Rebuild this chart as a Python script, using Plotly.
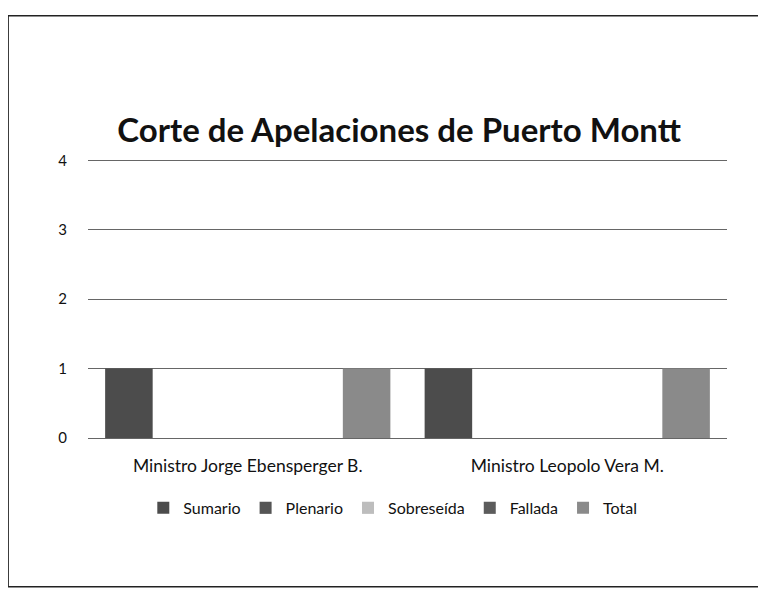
import plotly.graph_objects as go

categories = ["Ministro Jorge Ebensperger B.", "Ministro Leopolo Vera M."]
series_names = ["Sumario", "Plenario", "Sobreseída", "Fallada", "Total"]
sumario = [1, 1]
plenario = [0, 0]
sobreseida = [0, 0]
fallada = [0, 0]
total = [1, 1]
y_ticks = [0, 1, 2, 3, 4]

values = [sumario, plenario, sobreseida, fallada, total]
colors = ["#4c4c4c", "#555555", "#bdbdbd", "#5c5c5c", "#8a8a8a"]

fig = go.Figure()
for name, vals, col in zip(series_names, values, colors):
    fig.add_trace(go.Bar(name=name, x=categories, y=vals, marker_color=col,
                         marker_line_width=0))

# page has an 8px body margin, so the figure is 8px smaller and margins compensate
fig.update_layout(
    width=758, height=581,
    margin=dict(l=80, r=39, t=148.5, b=151),
    paper_bgcolor="white", plot_bgcolor="white",
    font=dict(family="Lato, Open Sans, sans-serif", color="#111111", size=16),
    barmode="group", bargap=0.07, bargroupgap=0.2,
    title=dict(text="<b>Corte de Apelaciones de Puerto Montt</b>",
               x=0.516, xanchor="center", y=0.79, yanchor="middle",
               font=dict(size=33, color="#111111")),
    legend=dict(orientation="h", x=0.477, xanchor="center", y=-0.249, yanchor="middle",
                font=dict(size=16, color="#111111"), itemwidth=30, tracegroupgap=0),
    showlegend=True,
)
fig.update_yaxes(range=[0, 4.05], tickvals=y_ticks, showgrid=True, gridcolor="#666666",
                 gridwidth=1, zeroline=True, zerolinecolor="#666666", zerolinewidth=1,
                 ticklabelstandoff=20, tickfont=dict(size=15, color="#111111"),
                 showline=False)
fig.update_xaxes(showline=False, ticklabelstandoff=15, tickfont=dict(size=17.5, color="#111111"))

fig.add_shape(type="rect", xref="paper", yref="paper",
              x0=-0.125, x1=1.08, y0=-0.529, y1=1.503,
              line=dict(color="#222222", width=1.5), fillcolor="rgba(0,0,0,0)")

fig.write_html("out.html")
